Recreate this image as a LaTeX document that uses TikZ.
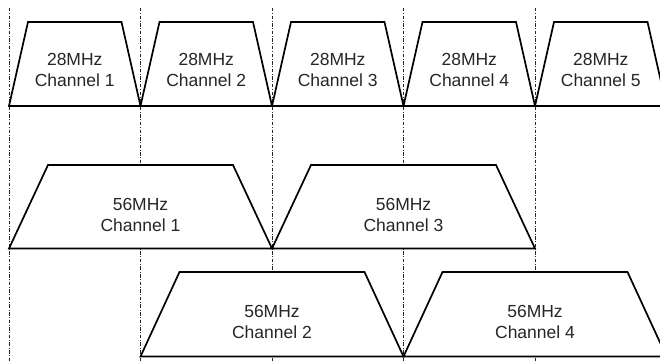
\documentclass[tikz,border=0pt]{standalone}
\usepackage{fontspec}
\setmainfont{Liberation Sans}
\begin{document}
\begin{tikzpicture}[x=1pt,y=-1pt,
  guide/.style={draw=black!85,line width=0.75pt,dash pattern=on 3.5pt off 1.6pt on 0.9pt off 1.6pt},
  band/.style={draw=black,fill=white,line width=1.7pt,line join=miter},
  base/.style={draw=black,line width=1.7pt},
  lbl/.style={align=center,inner sep=0pt,font=\fontsize{17.5}{21}\selectfont,text=black!85}]
\useasboundingbox (0,0) rectangle (660,363);
\clip (0,0) rectangle (660,363);
% vertical guides
\foreach \x in {9,140.5,272,403.5,535}
  \draw[guide] (\x,8) -- (\x,363);
% top row: 28 MHz channels
\foreach \k in {0,...,4}{
  \pgfmathsetmacro{\b}{9+131.5*\k}
  \draw[band] (\b,106) -- (\b+19,22) -- (\b+112.5,22) -- (\b+131.5,106) -- cycle;
}
\draw[base] (9,106) -- (660,106);
% middle row
\draw[band] (9,248.5) -- (48,165) -- (233,165) -- (272,248.5) -- cycle;
\draw[band] (272,248.5) -- (311,165) -- (496,165) -- (535,248.5) -- cycle;
\draw[base] (9,248.5) -- (535,248.5);
% bottom row
\draw[band] (140.5,356.5) -- (179.5,272) -- (364.5,272) -- (403.5,356.5) -- cycle;
\draw[band] (403.5,356.5) -- (442.5,272) -- (627.5,272) -- (666.5,356.5) -- cycle;
\draw[base] (140.5,356.5) -- (660,356.5);
% labels
\node[lbl] (t1) at (74.75,69.5) {28MHz\\Channel 1};
\node[lbl] (t2) at (206.25,69.5) {28MHz\\Channel 2};
\node[lbl] (t3) at (337.75,69.5) {28MHz\\Channel 3};
\node[lbl] (t4) at (469.25,69.5) {28MHz\\Channel 4};
\node[lbl] (t5) at (600.75,69.5) {28MHz\\Channel 5};
\node[lbl] (m1) at (140.5,215) {56MHz\\Channel 1};
\node[lbl] (m3) at (403.5,215) {56MHz\\Channel 3};
\node[lbl] (b2) at (272,322) {56MHz\\Channel 2};
\node[lbl] (b4) at (535,322) {56MHz\\Channel 4};
\end{tikzpicture}
\end{document}
